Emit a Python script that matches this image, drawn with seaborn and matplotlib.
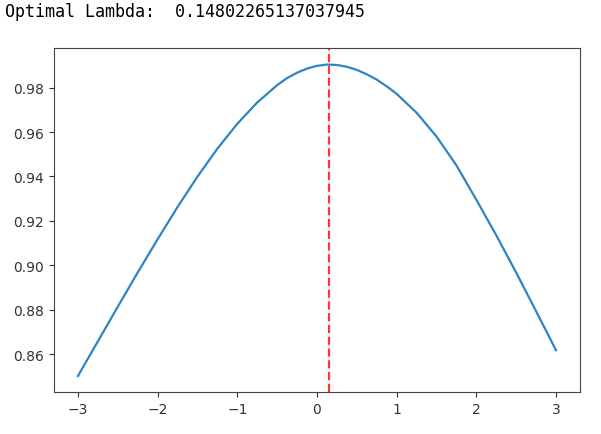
import matplotlib
matplotlib.use("Agg")
import matplotlib.pyplot as plt
import seaborn as sns
import pandas as pd

lambdas = [-3.0, -2.75, -2.5, -2.25, -2.0, -1.75, -1.5, -1.25, -1.0, -0.75,
           -0.5, -0.375, -0.25, -0.125, 0.0, 0.125, 0.25, 0.375, 0.5, 0.625,
           0.75, 0.875, 1.0, 1.25, 1.5, 1.75, 2.0, 2.25, 2.5, 2.75, 3.0]
ppcc = [0.8501, 0.8657, 0.8813, 0.8967, 0.9117, 0.9262, 0.9399, 0.9525, 0.9637, 0.9733,
        0.9811, 0.9843, 0.9867, 0.9886, 0.9898, 0.9904, 0.9902, 0.9894, 0.9880, 0.9860,
        0.9836, 0.9806, 0.9772, 0.9687, 0.9580, 0.9450, 0.9295, 0.9135, 0.8967, 0.8793,
        0.8617]
optimal_lambda = 0.14802265137037945

df = pd.DataFrame({"lambda": lambdas, "ppcc": ppcc})

fig = plt.figure(figsize=(6.01, 4.35), dpi=100)
ax = fig.add_axes([0.0899, 0.0966, 0.875, 0.790])
sns.lineplot(data=df, x="lambda", y="ppcc", ax=ax, color="#2f84c2", linewidth=1.6)
ax.axvline(optimal_lambda, color="#ff3434", linestyle="--", linewidth=1.6)
ax.set_xlabel("")
ax.set_ylabel("")
ax.set_xticks([-3, -2, -1, 0, 1, 2, 3])
ax.set_xticklabels(["\u22123", "\u22122", "\u22121", "0", "1", "2", "3"])
ax.set_yticks([0.86, 0.88, 0.90, 0.92, 0.94, 0.96, 0.98])
ax.set_yticklabels(["0.86", "0.88", "0.90", "0.92", "0.94", "0.96", "0.98"])
ax.set_xlim(-3.3, 3.3)
ax.set_ylim(0.8429, 0.9977)
ax.tick_params(colors="#333333", labelcolor="#333333", labelsize=10)
for s in ax.spines.values():
    s.set_color("#444444")

fig.text(0.008, 0.972, "Optimal Lambda:  " + repr(optimal_lambda),
         family="DejaVu Sans Mono", fontsize=12, va="center", ha="left", color="black")

fig.savefig("out.png", dpi=100)
